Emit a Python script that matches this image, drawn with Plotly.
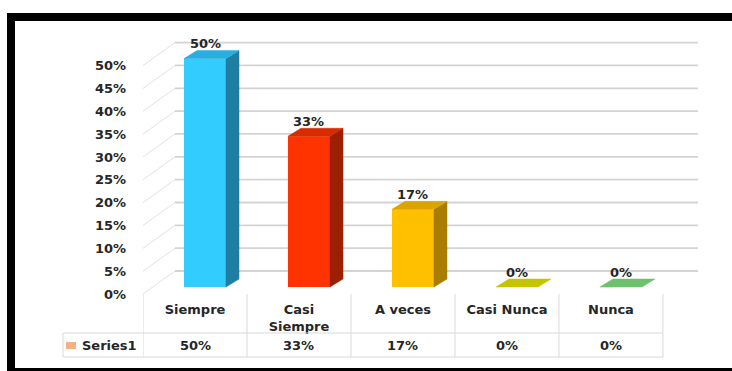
import plotly.graph_objects as go

# ---------------- data ----------------
categories = ["Siempre", "Casi Siempre", "A veces", "Casi Nunca", "Nunca"]
tick_labels = ["Siempre", "Casi<br>Siempre", "A veces", "Casi Nunca", "Nunca"]
values = [50, 33, 17, 0, 0]
series_name = "Series1"
y_ticks = [0, 5, 10, 15, 20, 25, 30, 35, 40, 45, 50]

# ---------------- styles ----------------
front_colors = ["#33ccff", "#ff3300", "#ffc000", "#c4c400", "#6cc26c"]
top_colors = ["#2aaee0", "#d92b00", "#dba400", "#c4c400", "#6cc26c"]
side_colors = ["#1f7fa3", "#9c2000", "#a87d00", "#9a9a00", "#4f9a4f"]
text_color = "#262626"
grid_color = "#d3d3d3"
table_color = "#d9d9d9"
FONT = dict(family="DejaVu Sans", size=13, color=text_color, weight="bold")

W, H = 732, 371
L, R, T, B = 143, 34, 35, 77
plot_w = W - L - R
plot_h = H - T - B
x_range = [-0.5, 4.837]
y_range = [0, 56.7]
px_x = plot_w / (x_range[1] - x_range[0])
px_y = plot_h / (y_range[1] - y_range[0])


def dx(p):
    return p / px_x


def dy(p):
    return p / px_y


def px_to_paper_x(p):
    return (p - L) / plot_w


def px_to_paper_y(p):
    return (H - B - p) / plot_h


wall_dx, wall_dy = dx(32), dy(23)      # depth of the back wall
bar_fx, bar_fy = dx(10), dy(7)         # bar front plane offset
bar_ddx, bar_ddy = dx(13), dy(8)       # bar depth
bar_w = dx(42)

fig = go.Figure()

# front faces
fig.add_trace(go.Bar(
    x=[i + bar_fx for i in range(len(values))],
    y=values,
    base=bar_fy,
    width=bar_w,
    marker=dict(color=front_colors, line=dict(width=0)),
    hoverinfo="skip",
))

# side and top faces
for i, v in enumerate(values):
    x0 = i + bar_fx - bar_w / 2
    x1 = i + bar_fx + bar_w / 2
    ytop = v + bar_fy
    if v > 0:
        fig.add_trace(go.Scatter(
            x=[x1, x1 + bar_ddx, x1 + bar_ddx, x1, x1],
            y=[bar_fy, bar_fy + bar_ddy, ytop + bar_ddy, ytop, bar_fy],
            mode="lines", fill="toself", fillcolor=side_colors[i],
            line=dict(width=0.5, color=side_colors[i]), hoverinfo="skip",
        ))
    fig.add_trace(go.Scatter(
        x=[x0, x1, x1 + bar_ddx, x0 + bar_ddx, x0],
        y=[ytop, ytop, ytop + bar_ddy, ytop + bar_ddy, ytop],
        mode="lines", fill="toself", fillcolor=top_colors[i],
        line=dict(width=0.5, color=top_colors[i]), hoverinfo="skip",
    ))

shapes = []
# back wall gridlines + side wall oblique lines
for t in y_ticks:
    shapes.append(dict(type="line", xref="x", yref="y", layer="below",
                       x0=x_range[0] + wall_dx, x1=x_range[1], y0=t + wall_dy, y1=t + wall_dy,
                       line=dict(color=grid_color, width=1.8)))
    shapes.append(dict(type="line", xref="x", yref="y", layer="below",
                       x0=x_range[0], x1=x_range[0] + wall_dx, y0=t, y1=t + wall_dy,
                       line=dict(color="#e2e2e2", width=1)))

# data table
row_mid = px_to_paper_y(333)
row_bot = px_to_paper_y(357)
for k in range(len(values) + 1):
    shapes.append(dict(type="line", xref="x", yref="paper",
                       x0=k - 0.5, x1=k - 0.5, y0=0, y1=row_bot,
                       line=dict(color=table_color, width=1)))
for yy in (row_mid, row_bot):
    shapes.append(dict(type="line", xref="paper", yref="paper",
                       x0=px_to_paper_x(63), x1=px_to_paper_x(663), y0=yy, y1=yy,
                       line=dict(color=table_color, width=1)))
shapes.append(dict(type="line", xref="paper", yref="paper",
                   x0=px_to_paper_x(63), x1=px_to_paper_x(63), y0=row_mid, y1=row_bot,
                   line=dict(color=table_color, width=1)))
# legend key
shapes.append(dict(type="rect", xref="paper", yref="paper",
                   x0=px_to_paper_x(66), x1=px_to_paper_x(76),
                   y0=px_to_paper_y(349), y1=px_to_paper_y(342),
                   fillcolor="#f4b183", line=dict(width=0)))
# black frame
shapes.append(dict(type="rect", xref="paper", yref="paper", layer="above",
                   x0=px_to_paper_x(11), x1=px_to_paper_x(745),
                   y0=px_to_paper_y(372), y1=px_to_paper_y(17),
                   line=dict(color="black", width=8)))

annotations = []
for i, v in enumerate(values):
    annotations.append(dict(x=i + bar_fx, y=v + bar_fy + bar_ddy, xref="x", yref="y",
                            text=f"{v}%", showarrow=False, yanchor="middle", yshift=7,
                            font=FONT))
    annotations.append(dict(x=i, y=px_to_paper_y(345), xref="x", yref="paper",
                            text=f"{v}%", showarrow=False, yanchor="middle", font=FONT))
annotations.append(dict(x=px_to_paper_x(80), y=px_to_paper_y(345), xref="paper", yref="paper",
                        text=series_name, showarrow=False, xanchor="left", yanchor="middle",
                        font=FONT))

fig.update_layout(
    width=W, height=H, autosize=False,
    margin=dict(l=L, r=R, t=T, b=B, pad=0),
    paper_bgcolor="white", plot_bgcolor="white",
    showlegend=False, hovermode=False,
    shapes=shapes, annotations=annotations,
    xaxis=dict(range=x_range, tickmode="array", tickvals=list(range(len(categories))),
               ticktext=tick_labels, showgrid=False, zeroline=False, showline=False,
               ticks="", tickfont=FONT, ticklabelstandoff=6, fixedrange=True),
    yaxis=dict(range=y_range, tickmode="array", tickvals=y_ticks,
               ticktext=[f"{t}%" for t in y_ticks], showgrid=False, zeroline=False,
               showline=False, ticks="", tickfont=FONT, ticklabelstandoff=16, fixedrange=True),
)

fig.write_html("out.html", config={"displayModeBar": False},
               post_script="document.body.style.margin='0';document.body.style.overflow='hidden';")
